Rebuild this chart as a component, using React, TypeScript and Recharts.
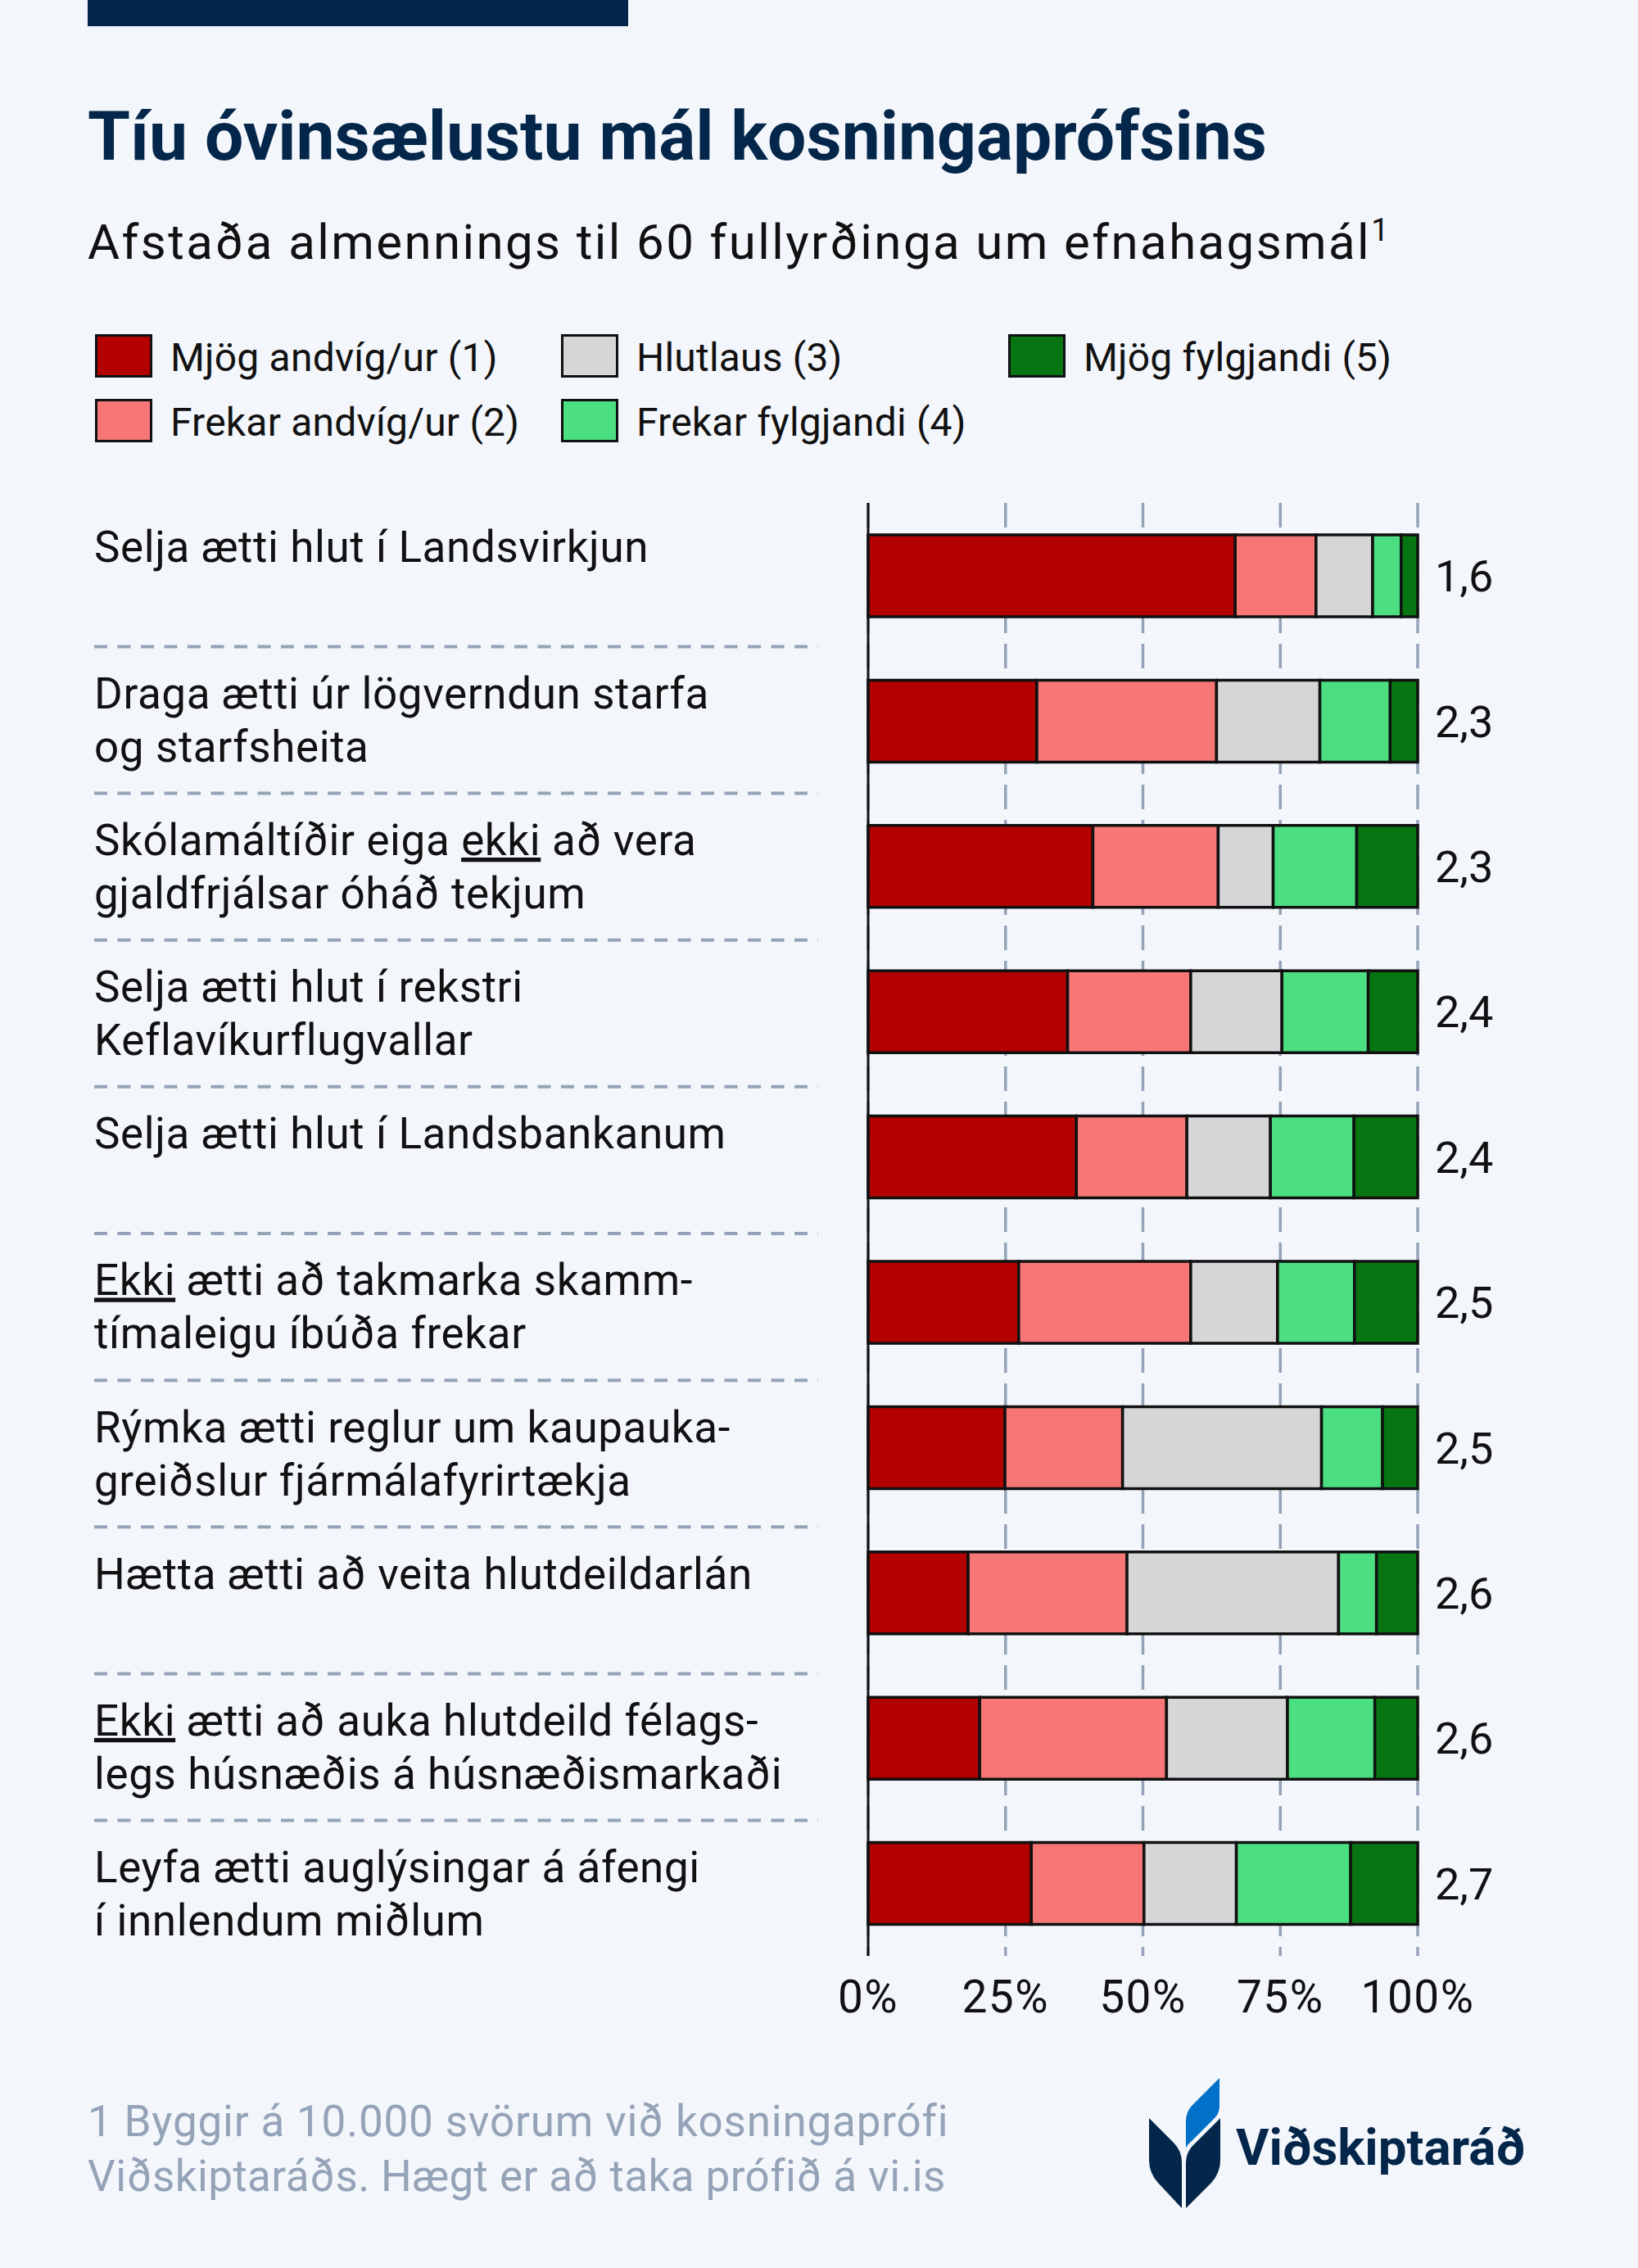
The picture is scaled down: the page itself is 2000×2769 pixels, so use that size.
import { Bar, BarChart, CartesianGrid, LabelList, XAxis, YAxis } from 'recharts'

// Statements, '|' = line break, _text_ = underlined
const categories = [
  'Selja ætti hlut í Landsvirkjun',
  'Draga ætti úr lögverndun starfa|og starfsheita',
  'Skólamáltíðir eiga _ekki_ að vera|gjaldfrjálsar óháð tekjum',
  'Selja ætti hlut í rekstri|Keflavíkurflugvallar',
  'Selja ætti hlut í Landsbankanum',
  '_Ekki_ ætti að takmarka skamm-|tímaleigu íbúða frekar',
  'Rýmka ætti reglur um kaupauka-|greiðslur fjármálafyrirtækja',
  'Hætta ætti að veita hlutdeildarlán',
  '_Ekki_ ætti að auka hlutdeild félags-|legs húsnæðis á húsnæðismarkaði',
  'Leyfa ætti auglýsingar á áfengi|í innlendum miðlum',
]

const mjogAndvig = [66.8, 30.7, 40.9, 36.3, 37.9, 27.4, 24.9, 18.2, 20.3, 29.7]
const frekarAndvig = [14.7, 32.7, 22.8, 22.4, 20.1, 31.3, 21.4, 28.9, 34.0, 20.5]
const hlutlaus = [10.3, 18.8, 10.0, 16.6, 15.2, 15.8, 36.2, 38.5, 22.0, 16.8]
const frekarFylgjandi = [5.2, 12.8, 15.2, 15.7, 15.2, 14.0, 11.1, 6.9, 15.9, 20.8]
const mjogFylgjandi = [3.0, 5.0, 11.1, 9.0, 11.6, 11.5, 6.4, 7.5, 7.8, 12.2]
const means = ['1,6', '2,3', '2,3', '2,4', '2,4', '2,5', '2,5', '2,6', '2,6', '2,7']

const seriesKeys = ['s1', 's2', 's3', 's4', 's5']
const seriesNames = [
  'Mjög andvíg/ur (1)',
  'Frekar andvíg/ur (2)',
  'Hlutlaus (3)',
  'Frekar fylgjandi (4)',
  'Mjög fylgjandi (5)',
]
const seriesColors = ['#b30000', '#f77676', '#d6d6d8', '#4bdf82', '#077512']
const xTicks = [0, 25, 50, 75, 100]

const data = categories.map((label, i) => ({
  label,
  s1: mjogAndvig[i],
  s2: frekarAndvig[i],
  s3: hlutlaus[i],
  s4: frekarFylgjandi[i],
  s5: mjogFylgjandi[i],
  mean: means[i],
}))

const FONT = 'Roboto, "Noto Sans", sans-serif'
const NAVY = '#03264a'
const BG = '#f3f6fb'
const GRID = '#94a3b8'

// legend slots: [swatchX, swatchY]
const legendSlots = [
  [116, 408],
  [116, 487],
  [685, 408],
  [685, 487],
  [1231, 408],
]

function segments(line: string) {
  return line.split('_').map((part, k) =>
    k % 2 === 1 ? (
      <tspan key={k} style={{ textDecoration: 'underline' }}>
        {part}
      </tspan>
    ) : (
      <tspan key={k}>{part}</tspan>
    ),
  )
}

function LabelTick(props: any) {
  const { y, payload } = props
  const i = props.index ?? payload.index ?? 0
  const half = payload.offset || 88.7
  const drift = i * 1.75
  const lines = String(payload.value).split('|')
  return (
    <g>
      <text
        x={115}
        y={y - 17 + drift}
        fontSize={53}
        letterSpacing={0.6}
        fill="#111"
        fontFamily={FONT}
      >
        {lines.map((ln, k) => (
          <tspan key={k} x={115} dy={k === 0 ? 0 : 65}>
            {segments(ln)}
          </tspan>
        ))}
      </text>
      {i < categories.length - 1 && (
        <line
          x1={115}
          x2={999}
          y1={y + half - 2 + drift}
          y2={y + half - 2 + drift}
          stroke={GRID}
          strokeWidth={4}
          strokeDasharray="16 12.5"
        />
      )}
    </g>
  )
}

export default function App() {
  return (
    <div
      style={{
        position: 'absolute',
        left: 0,
        top: 0,
        width: 2000,
        height: 2769,
        background: BG,
        overflow: 'hidden',
      }}
    >
      <svg width={2000} height={2769} style={{ position: 'absolute', left: 0, top: 0 }}>
        <rect x={107} y={0} width={660} height={32} fill={NAVY} />
        <text x={107} y={195} fontSize={84} fontWeight={700} fill={NAVY} fontFamily={FONT}>
          Tíu óvinsælustu mál kosningaprófsins
        </text>
        <text
          x={107}
          y={316}
          fontSize={60}
          letterSpacing={2.4}
          fill="#111"
          fontFamily={FONT}
        >
          Afstaða almennings til 60 fullyrðinga um efnahagsmál
          <tspan fontSize={38} dy={-22} letterSpacing={0}>
            1
          </tspan>
        </text>

        {seriesNames.map((name, k) => {
          const [sx, sy] = legendSlots[k]
          return (
            <g key={name}>
              <rect
                x={sx + 1.5}
                y={sy + 1.5}
                width={67}
                height={50}
                fill={seriesColors[k]}
                stroke="#111"
                strokeWidth={3}
              />
              <text
                x={sx + 92}
                y={sy + 45}
                fontSize={48}
                letterSpacing={0.2}
                fill="#111"
                fontFamily={FONT}
              >
                {name}
              </text>
            </g>
          )
        })}

        <text x={107} y={2608} fontSize={53} letterSpacing={0.8} fill={GRID} fontFamily={FONT}>
          1 Byggir á 10.000 svörum við kosningaprófi
        </text>
        <text x={107} y={2675} fontSize={53} letterSpacing={0.4} fill={GRID} fontFamily={FONT}>
          Viðskiptaráðs. Hægt er að taka prófið á vi.is
        </text>

        {/* logo */}
        <path
          d="M1403,2586 L1433,2616 Q1443,2626 1443,2640 L1443,2696 L1414,2665 Q1403,2653 1403,2637 Z"
          fill={NAVY}
        />
        <path
          d="M1490,2586 L1460,2616 Q1448,2626 1448,2640 L1448,2696 L1479,2665 Q1490,2653 1490,2637 Z"
          fill={NAVY}
        />
        <path
          d="M1448,2623 L1448,2590 Q1448,2577 1457,2569 L1489,2537 L1489,2571 Q1489,2580 1483,2586 L1455,2614 Q1449,2619 1448,2623 Z"
          fill="#0070c9"
        />
        <text
          x={1509}
          y={2643}
          fontSize={62}
          fontWeight={700}
          fill={NAVY}
          fontFamily={FONT}
          textLength={353}
          lengthAdjust="spacingAndGlyphs"
        >
          Viðskiptaráð
        </text>
      </svg>

      <div style={{ position: 'absolute', left: 0, top: 560 }}>
        <BarChart
          width={2000}
          height={1960}
          data={data}
          layout="vertical"
          margin={{ top: 54, right: 269, bottom: 72, left: 0 }}
          barSize={100}
        >
          <CartesianGrid
            horizontal={false}
            vertical
            stroke={GRID}
            strokeWidth={3.5}
            strokeDasharray="30 13"
          />
          <XAxis
            type="number"
            domain={[0, 100]}
            ticks={xTicks}
            tickFormatter={(v: number) => `${v}%`}
            axisLine={false}
            tickLine={false}
            tickSize={0}
            tickMargin={30}
            height={60}
            tick={{ fontSize: 55, fill: '#111', fontFamily: FONT, letterSpacing: 1.5 }}
          />
          <YAxis
            type="category"
            dataKey="label"
            width={1060}
            interval={0}
            axisLine={{ stroke: '#111', strokeWidth: 3 }}
            tickLine={false}
            tick={<LabelTick />}
          />
          {seriesKeys.map((key, k) => (
            <Bar
              key={key}
              dataKey={key}
              name={seriesNames[k]}
              stackId="a"
              fill={seriesColors[k]}
              stroke="#111"
              strokeWidth={3.5}
              isAnimationActive={false}
            >
              {k === seriesKeys.length - 1 && (
                <LabelList
                  dataKey="mean"
                  position="right"
                  offset={21}
                  fontSize={54}
                  fill="#111"
                  fontFamily={FONT}
                />
              )}
            </Bar>
          ))}
        </BarChart>
      </div>
    </div>
  )
}
